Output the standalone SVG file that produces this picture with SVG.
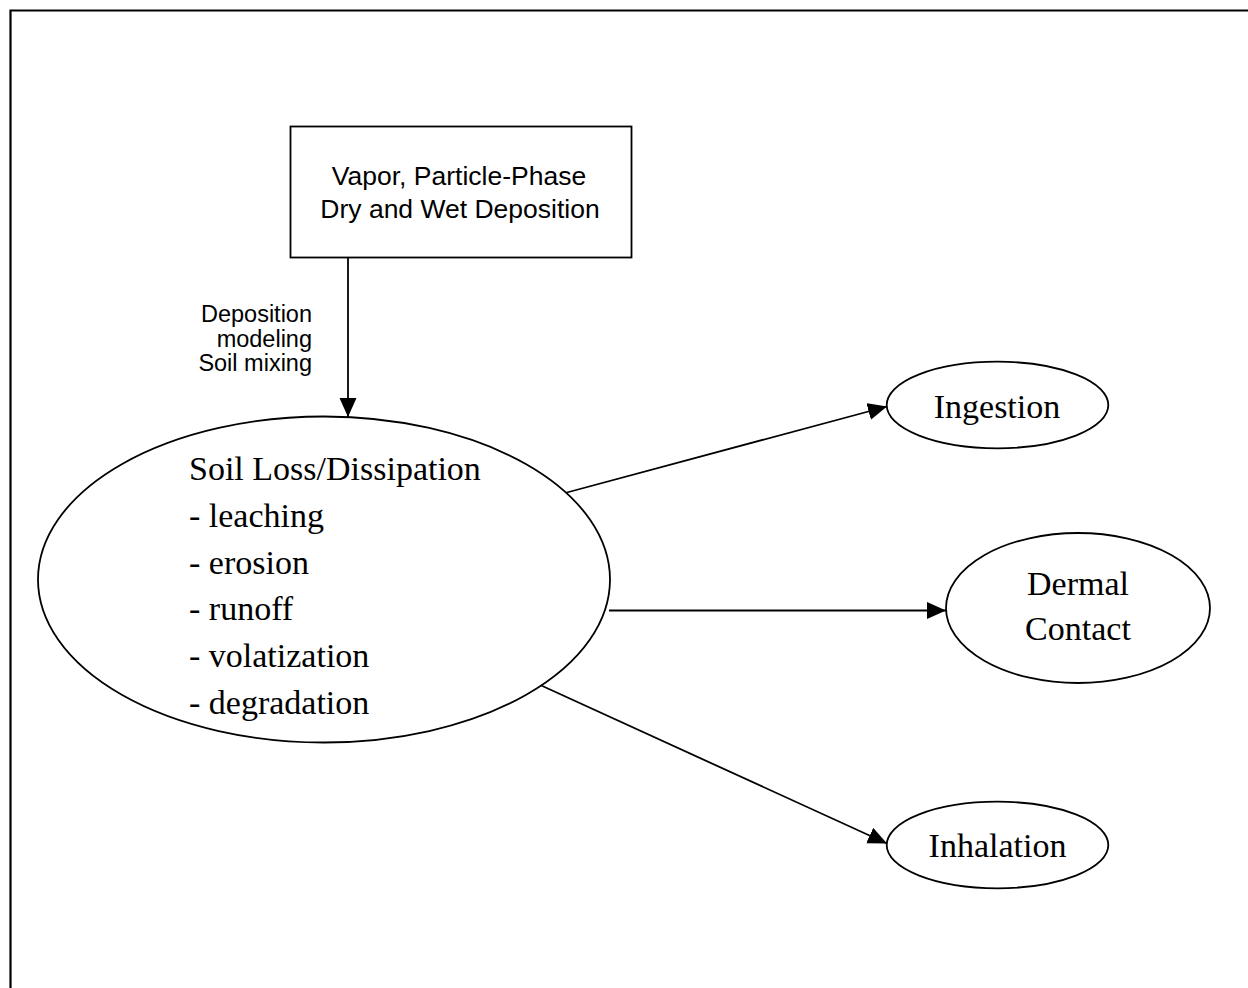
<svg xmlns="http://www.w3.org/2000/svg" width="1248" height="988" viewBox="0 0 1248 988">
  <style>
    .shape { fill: #ffffff; stroke: #000000; stroke-width: 1.8; }
    .edge { fill: none; stroke: #000000; stroke-width: 1.8; }
    .serif { font-family: "Liberation Serif", "Times New Roman", serif; font-size: 34px; fill: #000000; }
    .sans { font-family: "Liberation Sans", Arial, sans-serif; fill: #000000; }
  </style>
  <defs>
    <marker id="arrow" markerUnits="userSpaceOnUse" markerWidth="20" markerHeight="18" refX="19" refY="8.5" orient="auto">
      <path d="M0,0 L19,8.5 L0,17 Z" fill="#000000"/>
    </marker>
  </defs>

  <rect x="0" y="0" width="1248" height="988" fill="#ffffff"/>

  <!-- page frame -->
  <path d="M10.5,988 V10.5 H1248" fill="none" stroke="#000000" stroke-width="2.2"/>

  <!-- connectors -->
  <g id="connectors">
    <line class="edge" x1="348" y1="257" x2="348" y2="417" marker-end="url(#arrow)"/>
    <line class="edge" x1="565" y1="493" x2="887" y2="406.5" marker-end="url(#arrow)"/>
    <line class="edge" x1="609" y1="610.5" x2="946" y2="610.5" marker-end="url(#arrow)"/>
    <line class="edge" x1="538" y1="684" x2="887" y2="843.5" marker-end="url(#arrow)"/>
  </g>

  <!-- edge label -->
  <g id="deposition-label" class="sans" font-size="23.5" text-anchor="end">
    <text x="312" y="322">Deposition</text>
    <text x="312" y="346.5">modeling</text>
    <text x="312" y="371">Soil mixing</text>
  </g>

  <g id="deposition-source">
    <rect class="shape" x="290.5" y="126.5" width="341" height="131"/>
    <g class="sans" font-size="26.5" text-anchor="middle">
      <text x="459" y="185">Vapor, Particle-Phase</text>
      <text x="460" y="217.5">Dry and Wet Deposition</text>
    </g>
  </g>

  <g id="soil-loss">
    <ellipse class="shape" cx="324" cy="579.5" rx="286" ry="163"/>
    <g class="serif">
      <text x="189" y="480">Soil Loss/Dissipation</text>
      <text x="189" y="526.5">- leaching</text>
      <text x="189" y="573.5">- erosion</text>
      <text x="189" y="620">- runoff</text>
      <text x="189" y="667">- volatization</text>
      <text x="189" y="714">- degradation</text>
    </g>
  </g>

  <g id="ingestion">
    <ellipse class="shape" cx="997.5" cy="405" rx="110.8" ry="43.3"/>
    <text class="serif" x="997" y="418" text-anchor="middle">Ingestion</text>
  </g>

  <g id="dermal-contact">
    <ellipse class="shape" cx="1078" cy="608" rx="132" ry="75"/>
    <g class="serif" text-anchor="middle">
      <text x="1078" y="595">Dermal</text>
      <text x="1078" y="640">Contact</text>
    </g>
  </g>

  <g id="inhalation">
    <ellipse class="shape" cx="997.5" cy="845" rx="110.8" ry="43.3"/>
    <text class="serif" x="997.5" y="857" text-anchor="middle">Inhalation</text>
  </g>
</svg>
